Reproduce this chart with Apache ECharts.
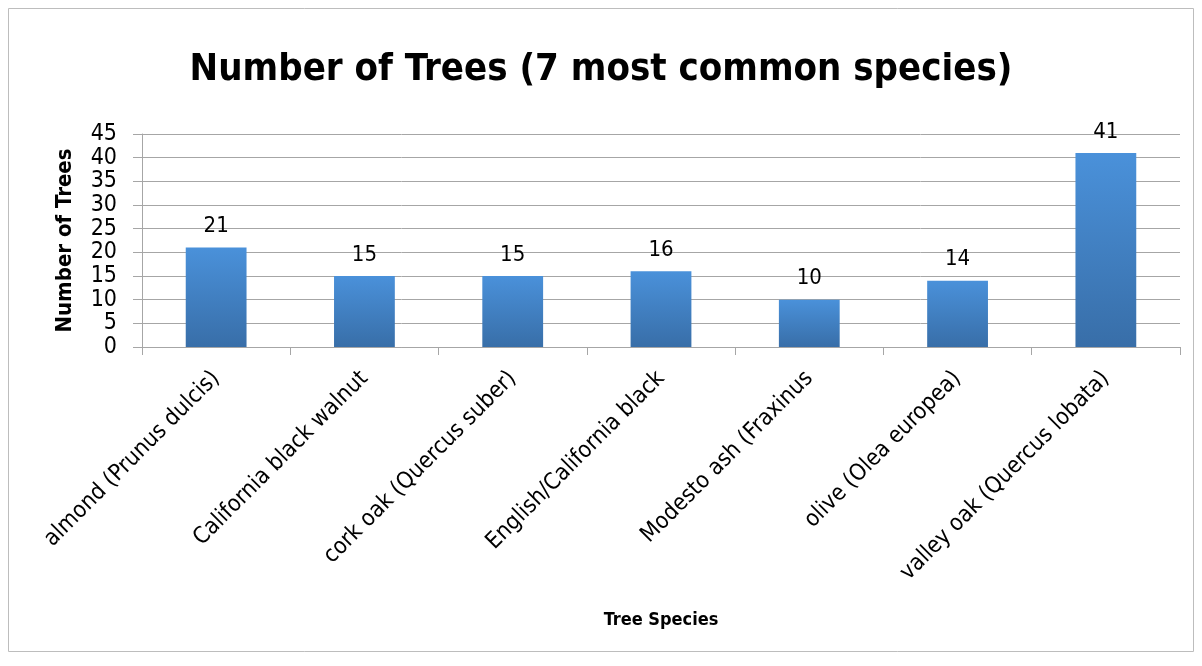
<!DOCTYPE html>
<html>
<head>
<meta charset="utf-8">
<script src="https://cdn.jsdelivr.net/npm/echarts@6/dist/echarts.min.js"></script>
<style>
  html, body { margin: 0; padding: 0; background: #fff; }
  #chart { width: 1202px; height: 666px; }
</style>
</head>
<body>
<div id="chart"></div>
<script>
// tree species and counts
var species = [
  'almond (Prunus dulcis)',
  'California black walnut',
  'cork oak (Quercus suber)',
  'English/California black',
  'Modesto ash (Fraxinus',
  'olive (Olea europea)',
  'valley oak (Quercus lobata)'
]
var treeCounts = [21, 15, 15, 16, 10, 14, 41]

var font = '"DejaVu Sans Condensed", "Liberation Sans", sans-serif'

var myChart = echarts.init(document.getElementById('chart'))
var option = {
  animation: false,
  textStyle: { fontFamily: font },
  title: {
    text: 'Number of Trees (7 most common species)',
    left: 'center',
    top: 46,
    textStyle: { fontSize: 38, fontWeight: 'bold', color: '#000', fontFamily: font }
  },
  graphic: [{
    type: 'rect',
    shape: { x: 8.5, y: 8.5, width: 1185, height: 643 },
    style: { fill: 'none', stroke: '#bdbdbd', lineWidth: 1 }
  }],
  grid: { left: 142, right: 22, top: 134, bottom: 319 },
  xAxis: {
    type: 'category',
    data: species,
    name: 'Tree Species',
    nameLocation: 'middle',
    nameGap: 264,
    nameTextStyle: { fontSize: 18, fontWeight: 'bold', color: '#000', fontFamily: font },
    axisLine: { lineStyle: { color: '#a6a6a6' } },
    axisTick: { show: true, length: 8, lineStyle: { color: '#a6a6a6' } },
    axisLabel: { rotate: 45, fontSize: 23, color: '#000', margin: 28, interval: 0, fontFamily: font }
  },
  yAxis: {
    type: 'value',
    min: 0,
    max: 45,
    interval: 5,
    name: 'Number of Trees',
    nameLocation: 'middle',
    nameGap: 66,
    nameTextStyle: { fontSize: 22, fontWeight: 'bold', color: '#000', fontFamily: font },
    axisLine: { show: true, lineStyle: { color: '#a6a6a6' } },
    axisTick: { show: true, length: 9, lineStyle: { color: '#a6a6a6' } },
    axisLabel: {
      fontSize: 23, lineHeight: 18, color: '#000', margin: 25, fontFamily: font,
      showMinLabel: true, showMaxLabel: true, hideOverlap: false
    },
    splitLine: { lineStyle: { color: '#a6a6a6' } }
  },
  series: [{
    type: 'bar',
    data: treeCounts,
    barWidth: '41%',
    itemStyle: {
      color: new echarts.graphic.LinearGradient(0, 0, 0, 1, [
        { offset: 0, color: '#4a91da' },
        { offset: 1, color: '#386ea8' }
      ])
    },
    label: {
      show: true,
      position: 'top',
      distance: 10,
      fontSize: 22,
      color: '#000',
      fontFamily: font
    }
  }]
}
myChart.setOption(option)
</script>
</body>
</html>
